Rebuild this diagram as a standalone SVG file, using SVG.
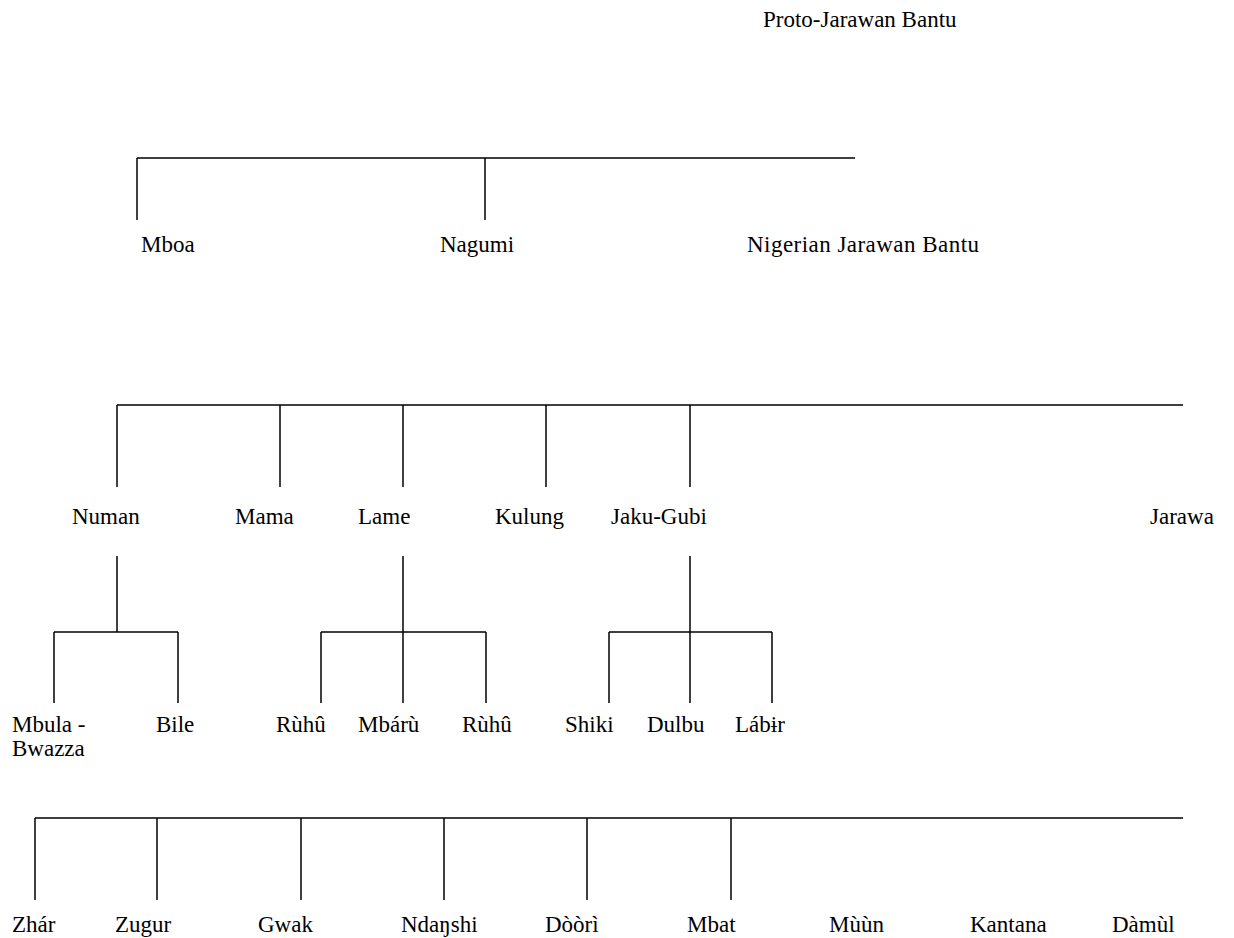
<svg xmlns="http://www.w3.org/2000/svg" width="1234" height="938" viewBox="0 0 1234 938">
<style>
text{font-family:"Liberation Serif","Times New Roman",serif;font-size:23px;fill:#000}
.c line{stroke:#000;stroke-width:1.5}
</style>
<rect width="1234" height="938" fill="#fff"/>
<g class="c" id="connectors">
<line x1="137" y1="158" x2="855" y2="158"/>
<line x1="137" y1="158" x2="137" y2="220"/>
<line x1="485" y1="158" x2="485" y2="220"/>
<line x1="117" y1="405" x2="1183" y2="405"/>
<line x1="117" y1="405" x2="117" y2="487"/>
<line x1="280" y1="405" x2="280" y2="487"/>
<line x1="403" y1="405" x2="403" y2="487"/>
<line x1="546" y1="405" x2="546" y2="487"/>
<line x1="690" y1="405" x2="690" y2="487"/>
<line x1="117" y1="556" x2="117" y2="632"/>
<line x1="54" y1="632" x2="178" y2="632"/>
<line x1="54" y1="632" x2="54" y2="703"/>
<line x1="178" y1="632" x2="178" y2="703"/>
<line x1="403" y1="556" x2="403" y2="632"/>
<line x1="321" y1="632" x2="486" y2="632"/>
<line x1="321" y1="632" x2="321" y2="703"/>
<line x1="403" y1="632" x2="403" y2="703"/>
<line x1="486" y1="632" x2="486" y2="703"/>
<line x1="690" y1="556" x2="690" y2="632"/>
<line x1="609" y1="632" x2="772" y2="632"/>
<line x1="609" y1="632" x2="609" y2="703"/>
<line x1="690" y1="632" x2="690" y2="703"/>
<line x1="772" y1="632" x2="772" y2="703"/>
<line x1="35" y1="818" x2="1183" y2="818"/>
<line x1="35" y1="818" x2="35" y2="900"/>
<line x1="157" y1="818" x2="157" y2="900"/>
<line x1="301" y1="818" x2="301" y2="900"/>
<line x1="444" y1="818" x2="444" y2="900"/>
<line x1="587" y1="818" x2="587" y2="900"/>
<line x1="731" y1="818" x2="731" y2="900"/>
</g>
<g id="proto"><text x="763" y="27">Proto-Jarawan Bantu</text></g>
<g id="mboa"><text x="141" y="252">Mboa</text></g>
<g id="nagumi"><text x="440" y="252">Nagumi</text></g>
<g id="njb"><text x="747" y="252" textLength="232" lengthAdjust="spacing">Nigerian Jarawan Bantu</text></g>
<g id="numan"><text x="72" y="524">Numan</text></g>
<g id="mama"><text x="235" y="524">Mama</text></g>
<g id="lame"><text x="358" y="524">Lame</text></g>
<g id="kulung"><text x="495" y="524">Kulung</text></g>
<g id="jakugubi"><text x="611" y="524">Jaku-Gubi</text></g>
<g id="jarawa"><text x="1150" y="524">Jarawa</text></g>
<g id="mbula"><text x="12" y="732">Mbula -</text><text x="12" y="756">Bwazza</text></g>
<g id="bile"><text x="156" y="732">Bile</text></g>
<g id="ruhu1"><text x="276" y="732">Rùhû</text></g>
<g id="mbaru"><text x="358" y="732">Mbárù</text></g>
<g id="ruhu2"><text x="462" y="732">Rùhû</text></g>
<g id="shiki"><text x="565" y="732">Shiki</text></g>
<g id="dulbu"><text x="647" y="732">Dulbu</text></g>
<g id="labir"><text x="735" y="732">Lábɨr</text></g>
<g id="zhar"><text x="12" y="932">Zhár</text></g>
<g id="zugur"><text x="115" y="932">Zugur</text></g>
<g id="gwak"><text x="258" y="932">Gwak</text></g>
<g id="ndanshi"><text x="401" y="932">Ndaŋshi</text></g>
<g id="doori"><text x="545" y="932">Dòòrì</text></g>
<g id="mbat"><text x="687" y="932">Mbat</text></g>
<g id="muun"><text x="829" y="932">Mùùn</text></g>
<g id="kantana"><text x="970" y="932">Kantana</text></g>
<g id="damul"><text x="1112" y="932">Dàmùl</text></g>
</svg>
